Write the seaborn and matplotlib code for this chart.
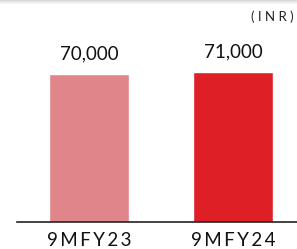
import numpy as np
import pandas as pd
import seaborn as sns
import matplotlib.pyplot as plt

# chart values
periods = ["9MFY23", "9MFY24"]
values = [70000, 71000]
value_labels = ["70,000", "71,000"]
bar_colors = ["#E0868A", "#DE1F26"]

df = pd.DataFrame({"period": periods, "value": values})

sns.set_style("white")
plt.rcParams['font.family'] = ['Lato', 'DejaVu Sans']

fig = plt.figure(figsize=(2.97, 2.49), dpi=100)
ax = fig.add_axes([17 / 297, 27 / 249, 280 / 297, 222 / 249])

sns.barplot(data=df, x="period", y="value", hue="period", palette=bar_colors,
            width=0.556, legend=False, ax=ax, saturation=1)

ax.set_xlim(-0.5, 1.444)
ax.set_ylim(0, 105000)

for i, v in enumerate(values):
    ax.text(i, v + 5300, value_labels[i], ha="center", va="bottom",
            fontsize=13.5, color="#111111")

# spaced-out tick labels
spaced = ["\u2009".join(list(p)) for p in periods]
ax.set_xticks(range(len(periods)))
ax.set_xticklabels(spaced, fontsize=13.5, color="#111111")
ax.tick_params(axis="x", length=0, pad=7)
ax.set_yticks([])
ax.set_xlabel("")
ax.set_ylabel("")
for s in ["top", "right", "left"]:
    ax.spines[s].set_visible(False)
ax.spines["bottom"].set_color("#222222")
ax.spines["bottom"].set_linewidth(1.2)

fig.text(251 / 297, 1 - 17 / 249, "\u2005".join("(INR)"), fontsize=9.5,
         color="#222222", va="center", ha="left")

# soft gray shadow along the top edge
sh = fig.add_axes([0, 1 - 5 / 249, 1, 5 / 249])
grad = np.linspace(0.85, 1.0, 5).reshape(-1, 1)
sh.imshow(grad, aspect="auto", cmap="gray", vmin=0, vmax=1, extent=[0, 1, 0, 1])
sh.axis("off")

fig.savefig("out.png", dpi=100)
